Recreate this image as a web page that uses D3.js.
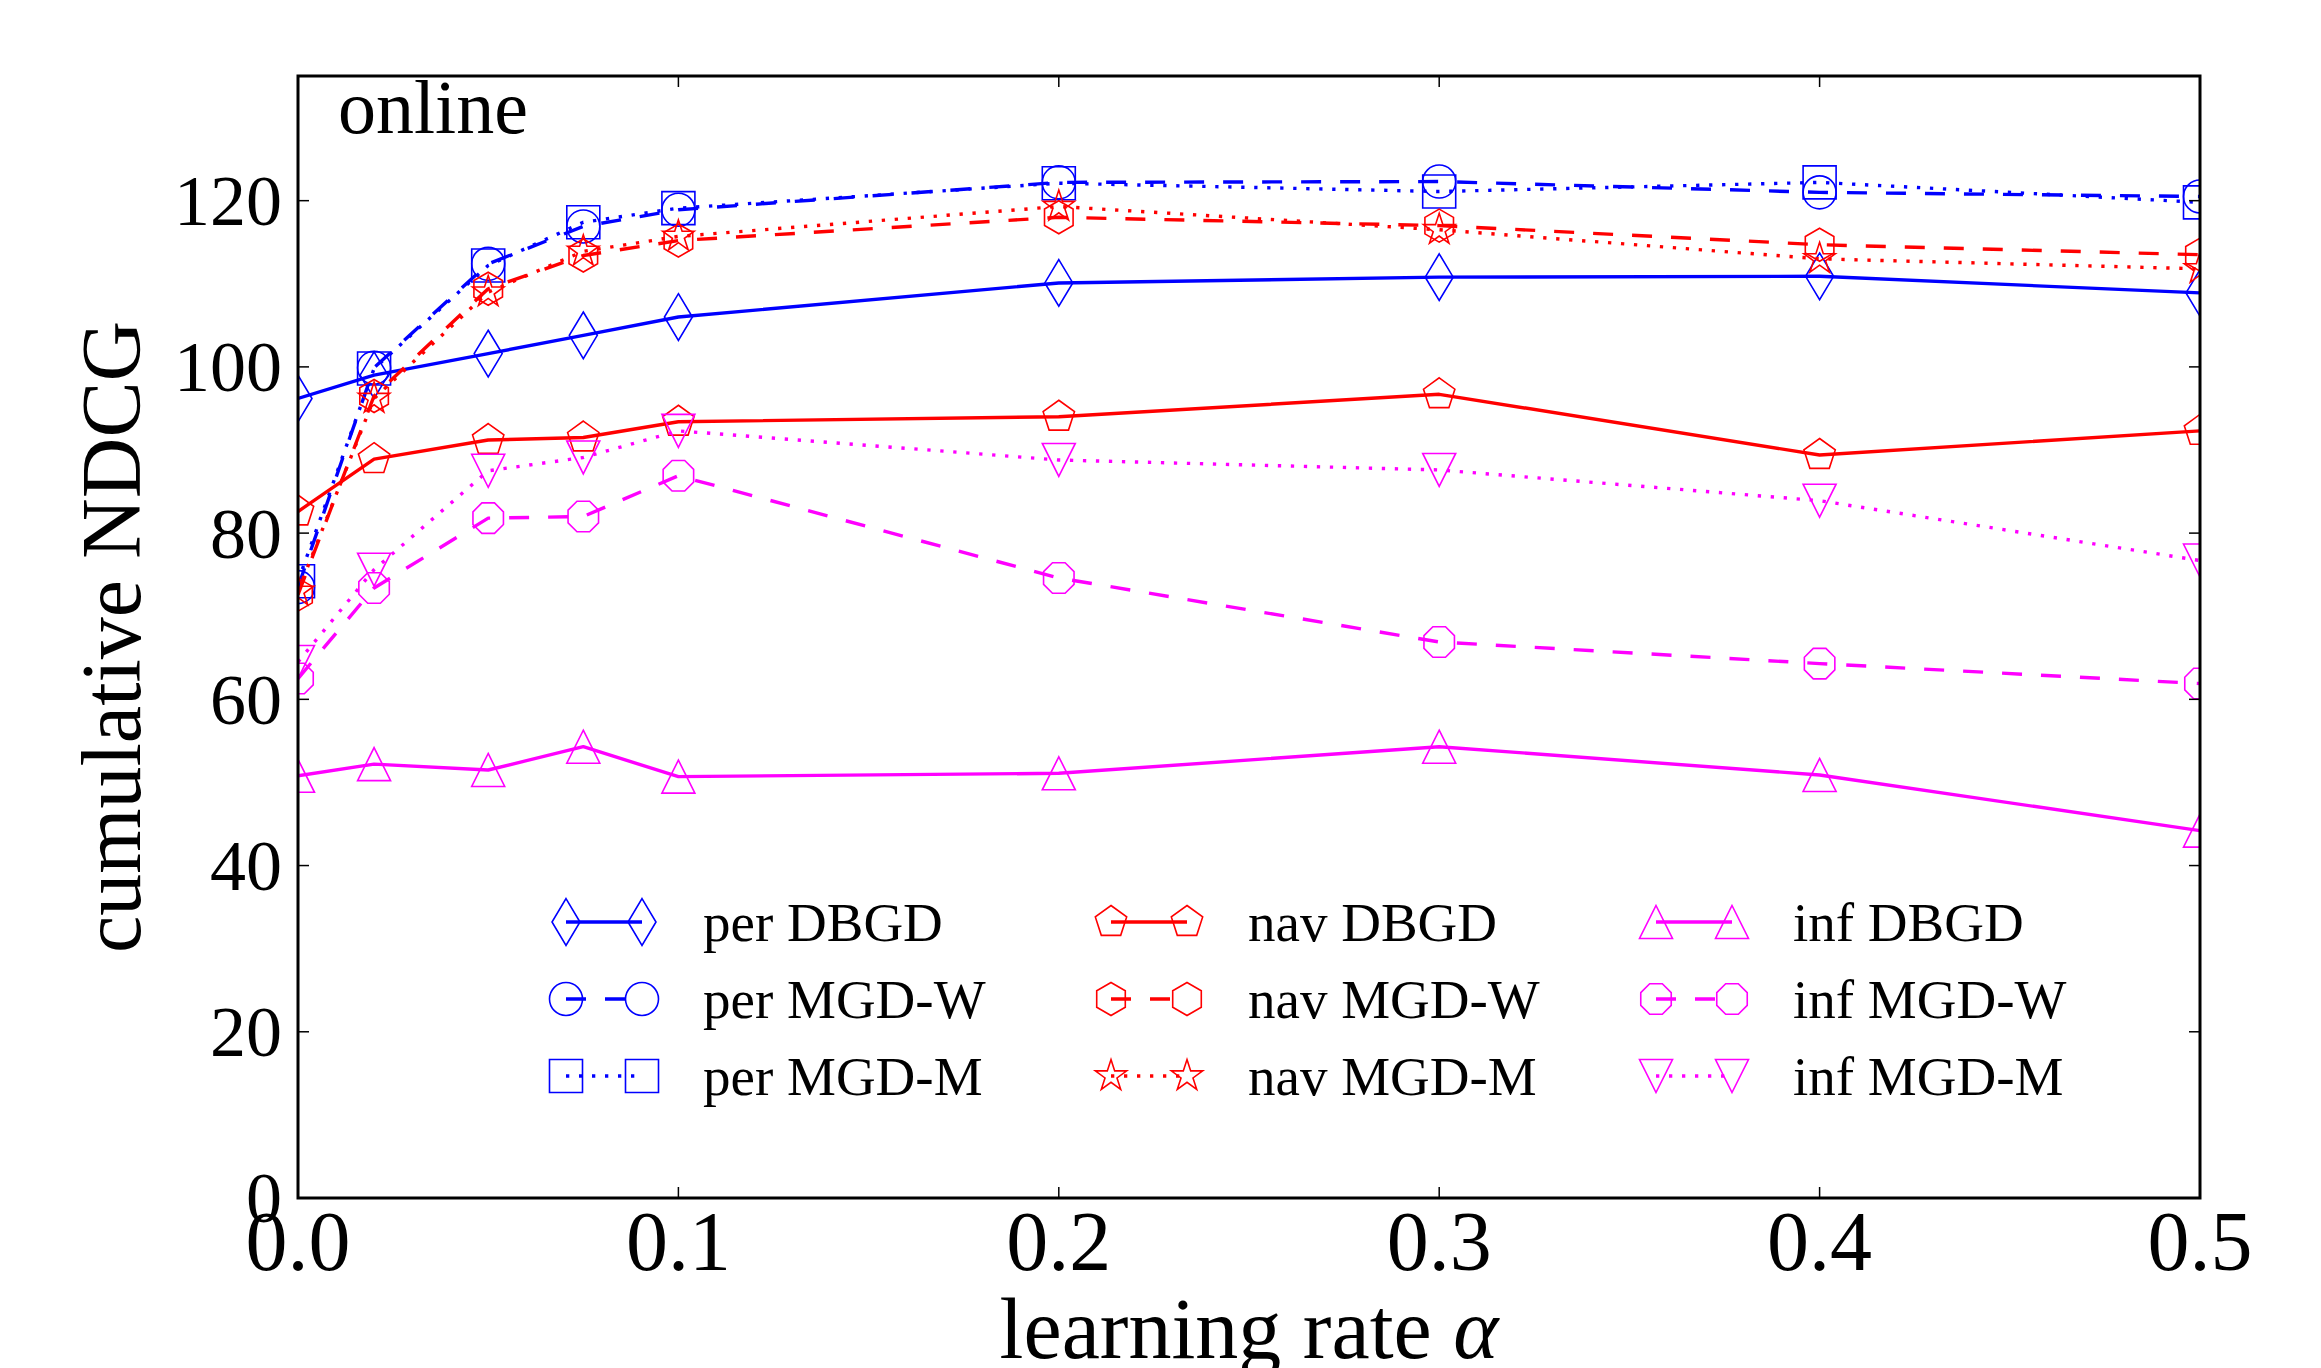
<!DOCTYPE html>
<html>
<head>
<meta charset="utf-8">
<script src="https://cdn.jsdelivr.net/npm/d3@7"></script>
<style>
  body { margin: 0; background: #fff; }
  svg { display: block; }
  text { font-family: 'Liberation Serif', 'DejaVu Serif', serif; fill: #000; }
</style>
</head>
<body>
<div id="chart"></div>
<script>
// learning rates on the x axis
const alphas = [0, 0.02, 0.05, 0.075, 0.1, 0.2, 0.3, 0.4, 0.5];

// cumulative NDCG, one array per run
const perDBGD = [96.2, 99.0, 101.6, 103.8, 106.0, 110.1, 110.8, 110.9, 108.9];
const perMGDW = [73.5, 99.9, 112.4, 116.9, 118.9, 122.2, 122.3, 121.0, 120.5];
const perMGDM = [74.2, 99.8, 112.2, 117.4, 119.1, 122.1, 121.1, 122.2, 119.8];
const navDBGD = [82.6, 88.9, 91.2, 91.5, 93.4, 94.0, 96.7, 89.4, 92.3];
const navMGDW = [72.6, 96.5, 109.4, 113.4, 115.2, 118.0, 117.0, 114.7, 113.5];
const navMGDM = [73.0, 96.2, 109.0, 113.9, 115.7, 119.3, 116.5, 113.0, 111.8];
const infDBGD = [50.8, 52.2, 51.5, 54.3, 50.7, 51.1, 54.3, 50.9, 44.2];
const infMGDW = [62.5, 73.4, 81.8, 82.0, 86.9, 74.6, 66.9, 64.3, 61.9];
const infMGDM = [64.5, 75.6, 87.5, 89.1, 92.3, 88.8, 87.6, 83.9, 76.7];

const seriesNames = ['per DBGD', 'per MGD-W', 'per MGD-M',
                     'nav DBGD', 'nav MGD-W', 'nav MGD-M',
                     'inf DBGD', 'inf MGD-W', 'inf MGD-M'];
const yTicks = [0, 20, 40, 60, 80, 100, 120];
const xTicks = [0.0, 0.1, 0.2, 0.3, 0.4, 0.5];

(function () {
  const width = 2321, height = 1368;
  const margin = { top: 76, right: 121, bottom: 170, left: 298 };
  const innerW = width - margin.left - margin.right;
  const innerH = height - margin.top - margin.bottom;

  const blue = '#0000ff', red = '#ff0000', magenta = '#ff00ff';
  const dashed = '20,19', dotted = '3.3,9.7';

  const series = [
    { name: seriesNames[0], values: perDBGD, color: blue, dash: null, marker: 'd' },
    { name: seriesNames[1], values: perMGDW, color: blue, dash: dashed, marker: 'o' },
    { name: seriesNames[2], values: perMGDM, color: blue, dash: dotted, marker: 's' },
    { name: seriesNames[3], values: navDBGD, color: red, dash: null, marker: 'p' },
    { name: seriesNames[4], values: navMGDW, color: red, dash: dashed, marker: 'h' },
    { name: seriesNames[5], values: navMGDM, color: red, dash: dotted, marker: '*' },
    { name: seriesNames[6], values: infDBGD, color: magenta, dash: null, marker: '^' },
    { name: seriesNames[7], values: infMGDW, color: magenta, dash: dashed, marker: '8' },
    { name: seriesNames[8], values: infMGDM, color: magenta, dash: dotted, marker: 'v' }
  ];

  const svg = d3.select('#chart').append('svg')
    .attr('width', width).attr('height', height);
  svg.append('rect').attr('width', width).attr('height', height).attr('fill', '#fff');

  const g = svg.append('g').attr('transform', `translate(${margin.left},${margin.top})`);

  const x = d3.scaleLinear().domain([0, 0.5]).range([0, innerW]);
  const y = d3.scaleLinear().domain([0, 135]).range([innerH, 0]);

  // matplotlib-like marker outlines
  function poly(n, r, rot) {
    const pts = [];
    for (let i = 0; i < n; i++) {
      const a = rot + i * 2 * Math.PI / n;
      pts.push([r * Math.sin(a), -r * Math.cos(a)]);
    }
    return pts;
  }
  function markerPath(shape, s) {
    const r = s / 2;
    let pts;
    if (shape === 'o') {
      const p = d3.path();
      p.arc(0, 0, r, 0, 2 * Math.PI);
      p.closePath();
      return p.toString();
    }
    if (shape === 'd') pts = [[0, -0.707 * s], [0.424 * s, 0], [0, 0.707 * s], [-0.424 * s, 0]];
    else if (shape === 's') pts = [[-r, -r], [r, -r], [r, r], [-r, r]];
    else if (shape === 'p') pts = poly(5, r, 0);
    else if (shape === 'h') pts = poly(6, r, 0);
    else if (shape === '8') pts = poly(8, r, Math.PI / 8);
    else if (shape === '^') pts = [[0, -r], [r, r], [-r, r]];
    else if (shape === 'v') pts = [[0, r], [r, -r], [-r, -r]];
    else if (shape === '*') {
      pts = [];
      for (let i = 0; i < 10; i++) {
        const rr = i % 2 === 0 ? r : r * 0.381966;
        const a = i * Math.PI / 5;
        pts.push([rr * Math.sin(a), -rr * Math.cos(a)]);
      }
    }
    return 'M' + pts.map(p => p[0].toFixed(2) + ',' + p[1].toFixed(2)).join('L') + 'Z';
  }
  const markerSize = 33;

  svg.append('defs').append('clipPath').attr('id', 'plot-clip')
    .append('rect').attr('width', innerW).attr('height', innerH);

  const plot = g.append('g').attr('clip-path', 'url(#plot-clip)');
  const line = d3.line().x((d, i) => x(alphas[i])).y(d => y(d));

  series.forEach(s => {
    const sg = plot.append('g');
    sg.append('path')
      .attr('d', line(s.values))
      .attr('fill', 'none')
      .attr('stroke', s.color)
      .attr('stroke-width', 3.4)
      .attr('stroke-dasharray', s.dash)
      .attr('stroke-linejoin', 'round');
    sg.selectAll('path.mk').data(s.values).join('path')
      .attr('class', 'mk')
      .attr('transform', (d, i) => `translate(${x(alphas[i])},${y(d)})`)
      .attr('d', markerPath(s.marker, markerSize))
      .attr('fill', 'none')
      .attr('stroke', s.color)
      .attr('stroke-width', 1.6);
  });

  // frame
  g.append('rect').attr('width', innerW).attr('height', innerH)
    .attr('fill', 'none').attr('stroke', '#000').attr('stroke-width', 3);

  // inward ticks on all four sides
  const tickLen = 11;
  yTicks.forEach(t => {
    g.append('line').attr('x1', 0).attr('x2', tickLen).attr('y1', y(t)).attr('y2', y(t))
      .attr('stroke', '#000').attr('stroke-width', 1.5);
    g.append('line').attr('x1', innerW - tickLen).attr('x2', innerW).attr('y1', y(t)).attr('y2', y(t))
      .attr('stroke', '#000').attr('stroke-width', 1.5);
    g.append('text').attr('x', -16).attr('y', y(t)).attr('dy', '0.34em')
      .attr('text-anchor', 'end').attr('font-size', 72).text(t);
  });
  xTicks.forEach(t => {
    g.append('line').attr('x1', x(t)).attr('x2', x(t)).attr('y1', innerH).attr('y2', innerH - tickLen)
      .attr('stroke', '#000').attr('stroke-width', 1.5);
    g.append('line').attr('x1', x(t)).attr('x2', x(t)).attr('y1', 0).attr('y2', tickLen)
      .attr('stroke', '#000').attr('stroke-width', 1.5);
    g.append('text').attr('x', x(t)).attr('y', innerH + 72)
      .attr('text-anchor', 'middle').attr('font-size', 84).text(d3.format('.1f')(t));
  });

  // axis titles
  const xl = svg.append('text').attr('x', margin.left + innerW / 2).attr('y', 1358)
    .attr('text-anchor', 'middle').attr('font-size', 86);
  xl.append('tspan').text('learning rate ');
  xl.append('tspan').attr('font-style', 'italic').text('α');

  svg.append('text')
    .attr('transform', `translate(140,${margin.top + innerH / 2}) rotate(-90)`)
    .attr('text-anchor', 'middle').attr('font-size', 84)
    .text('cumulative NDCG');

  g.append('text').attr('x', 40).attr('y', 57).attr('font-size', 76).text('online');

  // legend: 3 columns, 3 rows, two markers per entry
  const legX0 = 566 - margin.left, legColStep = 545, legRowY0 = 922 - margin.top, legRowStep = 77;
  const legGap = 76, legTextOff = 137;
  series.forEach((s, i) => {
    const col = Math.floor(i / 3), row = i % 3;
    const lx = legX0 + col * legColStep, ly = legRowY0 + row * legRowStep;
    const lg = g.append('g').attr('transform', `translate(${lx},${ly})`);
    lg.append('line').attr('x1', 0).attr('x2', legGap).attr('y1', 0).attr('y2', 0)
      .attr('stroke', s.color).attr('stroke-width', 3.4).attr('stroke-dasharray', s.dash);
    [0, legGap].forEach(px => {
      lg.append('path').attr('transform', `translate(${px},0)`)
        .attr('d', markerPath(s.marker, markerSize))
        .attr('fill', 'none').attr('stroke', s.color).attr('stroke-width', 1.6);
    });
    lg.append('text').attr('x', legTextOff).attr('y', 19).attr('font-size', 55).text(s.name);
  });
})();
</script>
</body>
</html>
